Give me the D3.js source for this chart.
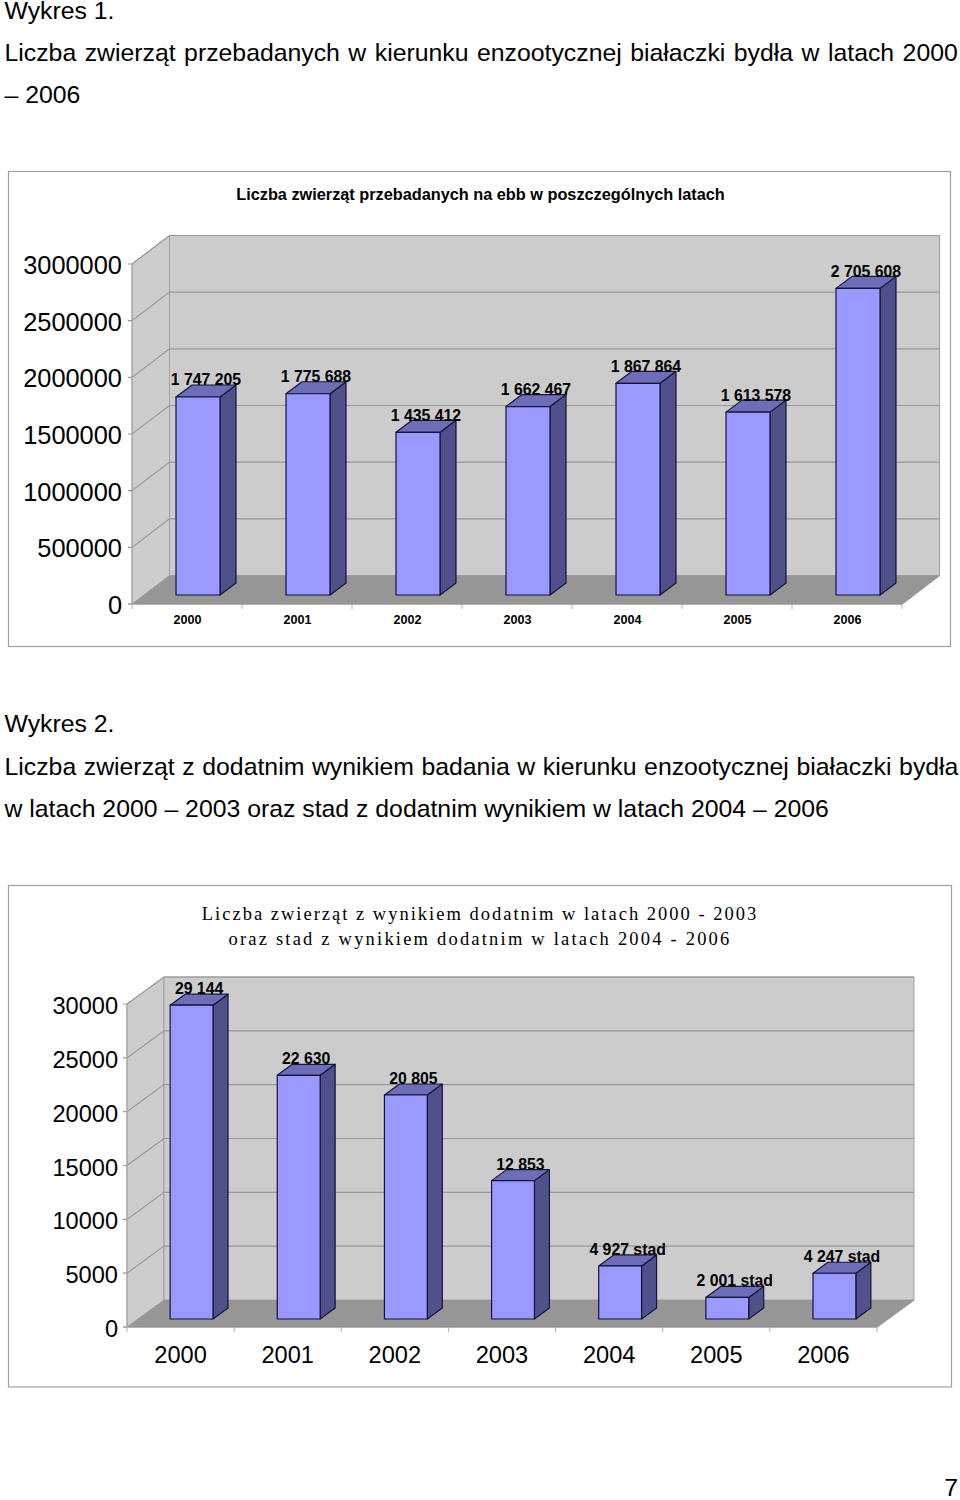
<!DOCTYPE html>
<html><head><meta charset="utf-8">
<script src="https://cdn.jsdelivr.net/npm/d3@7"></script>
<style>html,body{margin:0;padding:0;background:#fff}svg{display:block}text{fill:#000}</style>
</head><body><svg id="page" width="960" height="1500"></svg>
<script>
const years = ["2000","2001","2002","2003","2004","2005","2006"];
const animalsTested = [1747205,1775688,1435412,1662467,1867864,1613578,2705608];
const animalsLabels = ["1 747 205","1 775 688","1 435 412","1 662 467","1 867 864","1 613 578","2 705 608"];
const positiveResults = [29144,22630,20805,12853,4927,2001,4247];
const positiveLabels = ["29 144","22 630","20 805","12 853","4 927 stad","2 001 stad","4 247 stad"];
const ticksTested = [0,500000,1000000,1500000,2000000,2500000,3000000];
const ticksPositive = [0,5000,10000,15000,20000,25000,30000];
const headingLines = [
  ["Wykres 1.",19,0],
  ["Liczba zwierząt przebadanych w kierunku enzootycznej białaczki bydła w latach 2000",61,1.6],
  ["– 2006",103,0],
  ["Wykres 2.",732,0],
  ["Liczba zwierząt z dodatnim wynikiem badania w kierunku enzootycznej białaczki bydła",775,0.7],
  ["w latach 2000 – 2003 oraz stad z dodatnim wynikiem w latach 2004 – 2006",817,0]
];
const SANS="'Liberation Sans',Arial,sans-serif", SERIF="'Liberation Serif','Times New Roman',serif";
const svg=d3.select("#page");
svg.selectAll("text.head").data(headingLines).join("text").attr("class","head")
  .attr("x",4.5).attr("y",d=>d[1]).attr("word-spacing",d=>d[2]).attr("font-family",SANS).attr("font-size",24.8).text(d=>d[0]);
svg.append("text").attr("x",958).attr("y",1496).attr("text-anchor","end").attr("font-family",SANS).attr("font-size",24.8).text("7");

function chart(o){
  const g=svg.append("g");
  g.append("rect").attr("x",o.frame[0]).attr("y",o.frame[1]).attr("width",o.frame[2]-o.frame[0]).attr("height",o.frame[3]-o.frame[1])
    .attr("fill","#fff").attr("stroke","#a0a0a0").attr("stroke-width",1.2);
  const x=d3.scaleBand().domain(years).range([o.x0,o.x1]);
  const y=d3.scaleLinear().domain(o.domain).range([o.y0,o.yTop]);
  const [dx,dy]=o.depth; const top=y(o.domain[1]);
  const pts=a=>a.map(p=>p.join(",")).join(" ");
  g.append("polygon").attr("points",pts([[o.x0,o.y0],[o.x0+dx,o.y0-dy],[o.x0+dx,top-dy],[o.x0,top]])).attr("fill","#cdcdcd").attr("stroke","#a0a0a0");
  g.append("polygon").attr("points",pts([[o.x0+dx,o.y0-dy],[o.x1+dx,o.y0-dy],[o.x1+dx,top-dy],[o.x0+dx,top-dy]])).attr("fill","#cccccc").attr("stroke","#a0a0a0");
  g.append("polygon").attr("points",pts([[o.x0,o.y0],[o.x0+dx,o.y0-dy],[o.x1+dx,o.y0-dy],[o.x1,o.y0]])).attr("fill","#969696");
  const t=o.ticks;
  g.selectAll("path.grid").data(t.slice(1)).join("path").attr("class","grid").attr("fill","none").attr("stroke","#989898").attr("stroke-width",1.1)
    .attr("d",v=>`M${o.x0-4},${y(v)}H${o.x0}L${o.x0+dx},${y(v)-dy}H${o.x1+dx}`);
  g.append("path").attr("fill","none").attr("stroke","#989898").attr("stroke-width",1.3).attr("d",`M${o.x0-4},${o.y0}H${o.x1}L${o.x1+dx},${o.y0-dy}`);
  g.append("path").attr("fill","none").attr("stroke","#a8a8a8").attr("d",`M${o.x0},${top}V${o.y0}`);
  g.selectAll("line.xt").data(d3.range(8)).join("line").attr("class","xt")
    .attr("x1",i=>o.x0+i*x.step()).attr("x2",i=>o.x0+i*x.step()).attr("y1",o.y0).attr("y2",o.y0+5).attr("stroke","#b0b0b0");
  const bw=x.step()*0.4, [bdx,bdy]=o.barDepth, [sx,sy]=o.barShift;
  const bars=g.selectAll("g.bar").data(o.values).join("g").attr("class","bar");
  const geo=(v,i)=>{const l=x(years[i])+(x.step()-bw)/2+sx,r=l+bw,b=o.y0-sy,tp=y(v)-sy;return{l,r,b,tp};};
  const ink={stroke:"#14143c","stroke-width":1.2,"stroke-linejoin":"round"};
  const styl=(s)=>{Object.entries(ink).forEach(([k,v])=>s.attr(k,v));return s;};
  styl(bars.append("polygon").attr("fill","#50508a").attr("points",(v,i)=>{const g=geo(v,i);return pts([[g.r,g.b],[g.r+bdx,g.b-bdy],[g.r+bdx,g.tp-bdy],[g.r,g.tp]]);}));
  styl(bars.append("polygon").attr("fill","#6e6eb8").attr("points",(v,i)=>{const g=geo(v,i);return pts([[g.l,g.tp],[g.l+bdx,g.tp-bdy],[g.r+bdx,g.tp-bdy],[g.r,g.tp]]);}));
  styl(bars.append("rect").attr("fill","#9999ff").attr("x",(v,i)=>geo(v,i).l).attr("y",(v,i)=>geo(v,i).tp).attr("width",bw).attr("height",(v,i)=>geo(v,i).b-geo(v,i).tp));
  g.selectAll("text.val").data(o.values).join("text").attr("class","val").attr("font-family",SANS).attr("font-weight","bold").attr("font-size",o.valSize)
    .attr("text-anchor","middle").attr("x",(v,i)=>geo(v,i).l+bw/2+bdx/2).attr("y",(v,i)=>geo(v,i).tp-bdy+o.valDy).text((v,i)=>o.labels[i]);
  g.selectAll("text.yt").data(t).join("text").attr("class","yt").attr("font-family",SANS).attr("font-size",o.ySize).attr("text-anchor","end")
    .attr("x",o.x0-o.yGap).attr("y",v=>y(v)+o.yDy).text(v=>String(v));
  g.selectAll("text.xl").data(years).join("text").attr("class","xl").attr("font-family",SANS).attr("font-size",o.xSize).attr("font-weight",o.xWeight)
    .attr("text-anchor","middle").attr("x",d=>x(d)+x.step()/2+o.xShift).attr("y",o.xY).text(d=>d);
  o.title.forEach(tl=>{g.append("text").attr("x",o.titleX).attr("y",tl[1]).attr("text-anchor","middle").attr("font-family",o.titleFont).attr("font-size",o.titleSize)
    .attr("font-weight",o.titleWeight).attr("letter-spacing",tl[2]).text(tl[0]);});
}
chart({frame:[8.5,171.5,950.5,646.5],x0:132,x1:902,y0:604,yTop:264,depth:[37.5,28.5],domain:[0,3000000],ticks:ticksTested,values:animalsTested,labels:animalsLabels,
  barDepth:[16,12],barShift:[11,9],valSize:15.8,valDy:0.5,ySize:25.4,yGap:10,yDy:10,xSize:12.6,xWeight:"bold",xShift:0.4,xY:623.5,
  title:[["Liczba zwierząt przebadanych na ebb w poszczególnych latach",200,0]],titleX:480.5,titleFont:SANS,titleSize:16.3,titleWeight:"bold"});
chart({frame:[8.5,885.5,951.5,1387],x0:127,x1:877,y0:1327,yTop:1004,depth:[37,27],domain:[0,30000],ticks:ticksPositive,values:positiveResults,labels:positiveLabels,
  barDepth:[15,11],barShift:[11,8],valSize:15.8,valDy:0,ySize:23.6,yGap:9,yDy:10,xSize:23.6,xWeight:"normal",xShift:0,xY:1363,
  title:[["Liczba zwierząt z wynikiem dodatnim w latach 2000 - 2003",920,2.0],["oraz stad z wynikiem dodatnim w latach 2004 - 2006",945,2.2]],titleX:480,titleFont:SERIF,titleSize:18.5,titleWeight:"normal"});
</script></body></html>
